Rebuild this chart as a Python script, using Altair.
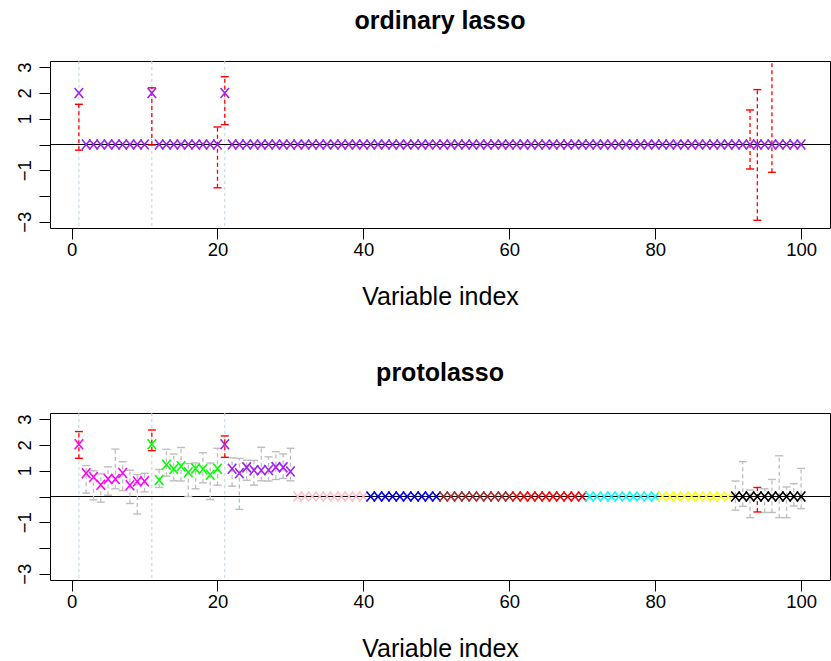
import altair as alt
import pandas as pd

# ---- data -------------------------------------------------------------
index = list(range(1, 101))
true_vars = [1, 11, 21]

lasso_coef = [
    2, 0, 0, 0, 0, 0, 0, 0, 0, 0,
    2, 0, 0, 0, 0, 0, 0, 0, 0, 0,
    2, 0, 0, 0, 0, 0, 0, 0, 0, 0,
    0, 0, 0, 0, 0, 0, 0, 0, 0, 0,
    0, 0, 0, 0, 0, 0, 0, 0, 0, 0,
    0, 0, 0, 0, 0, 0, 0, 0, 0, 0,
    0, 0, 0, 0, 0, 0, 0, 0, 0, 0,
    0, 0, 0, 0, 0, 0, 0, 0, 0, 0,
    0, 0, 0, 0, 0, 0, 0, 0, 0, 0,
    0, 0, 0, 0, 0, 0, 0, 0, 0, 0,
]

proto_coef = [
    2.03, 0.90, 0.76, 0.46, 0.68, 0.68, 0.91, 0.44, 0.58, 0.59,
    2.03, 0.64, 1.23, 1.07, 1.17, 0.94, 1.09, 1.06, 0.84, 1.08,
    2.03, 1.08, 0.90, 1.13, 1.02, 1.02, 1.03, 1.14, 1.13, 0.97,
    0, 0, 0, 0, 0, 0, 0, 0, 0, 0,
    0, 0, 0, 0, 0, 0, 0, 0, 0, 0,
    0, 0, 0, 0, 0, 0, 0, 0, 0, 0,
    0, 0, 0, 0, 0, 0, 0, 0, 0, 0,
    0, 0, 0, 0, 0, 0, 0, 0, 0, 0,
    0, 0, 0, 0, 0, 0, 0, 0, 0, 0,
    0, 0, 0, 0, 0, 0, 0, 0, 0, 0,
]

# one colour per block of ten variables (R colour names)
group_colors = ["#FF00FF", "#00FF00", "#A020F0", "#FFC0CB", "#0000FF",
                "#A52A2A", "#FF0000", "#00FFFF", "#FFFF00", "#000000"]
lasso_color = "#A020F0"

# interval bars for the ordinary lasso (red)
lasso_bar_idx = [1, 11, 20, 21, 93, 94, 96]
lasso_bar_lo = [-0.22, -0.02, -1.68, 0.77, -0.95, -2.94, -1.08]
lasso_bar_hi = [1.56, 2.20, 0.68, 2.63, 1.34, 2.13, 3.80]

# interval bars for the protolasso: prototypes in red, the others in grey
proto_red_idx = [1, 11, 21, 94]
proto_red_lo = [1.48, 1.78, 1.52, -0.60]
proto_red_hi = [2.52, 2.58, 2.35, 0.35]

proto_grey_idx = [2, 3, 4, 5, 6, 7, 8, 9, 10,
                  12, 13, 14, 15, 16, 17, 18, 19, 20,
                  22, 23, 24, 25, 26, 27, 28, 29, 30,
                  91, 92, 93, 95, 96, 97, 98, 99, 100]
proto_grey_lo = [0.13, -0.13, -0.22, 0.05, 0.30, 0.23, -0.27, -0.68, 0.18,
                 0.35, 0.79, 0.61, 0.60, 0.00, 0.30, 0.53, -0.12, 0.44,
                 0.40, -0.50, 0.63, 0.44, 0.61, 0.60, 0.66, 0.70, 0.61,
                 -0.53, -0.38, -0.82, -0.62, -0.62, -0.82, -0.82, -0.37, -0.47]
proto_grey_hi = [1.20, 1.00, 0.88, 1.15, 1.84, 1.35, 1.02, 0.85, 0.90,
                 1.05, 1.83, 1.65, 1.90, 1.28, 1.30, 1.70, 1.30, 1.87,
                 1.50, 1.48, 1.41, 1.40, 1.91, 1.54, 1.74, 1.65, 1.87,
                 0.60, 1.35, 0.25, 0.30, 0.66, 1.58, 0.37, 0.50, 1.09]

# ---- styling ----------------------------------------------------------
FONT = "Liberation Sans"
X_SHAPE = "M-0.85,-1L0.85,1M-0.85,1L0.85,-1"
CAP_SHAPE = "M-1,0L1,0"
PANEL_W, PANEL_H = 780, 167

x_scale = alt.Scale(domain=[-2.96, 103.96], nice=False, zero=False)
y_scale = alt.Scale(domain=[-3.24, 3.24], nice=False, zero=False)

x_axis = alt.Axis(values=[0, 20, 40, 60, 80, 100], title="Variable index",
                  grid=False, domain=False, tickSize=11, tickColor="black",
                  labelPadding=1, labelFontSize=18.5, labelColor="black",
                  titleFontSize=25, titleFontWeight="normal", titleColor="black",
                  titleBaseline="alphabetic", titleY=76, labelFont=FONT, titleFont=FONT)
y_axis = alt.Axis(values=[-3, -2, -1, 0, 1, 2, 3], title=None, grid=False,
                  domain=False, tickSize=11, tickColor="black",
                  labelAngle=-90, labelAlign="center", labelBaseline="bottom",
                  labelPadding=5, labelFontSize=18.5, labelColor="black",
                  labelFont=FONT,
                  labelExpr="datum.value == 0 || datum.value == -2 ? '' : datum.label")


def X(field="x"):
    return alt.X(f"{field}:Q", scale=x_scale, axis=x_axis)


def Y(field="y"):
    return alt.Y(f"{field}:Q", scale=y_scale, axis=y_axis)


def panel(title, coef, colors, bar_sets):
    pts = pd.DataFrame({"x": index, "y": coef, "col": colors})

    vlines = alt.Chart(pd.DataFrame({"x": true_vars})).mark_rule(
        color="#ADD8E6", strokeDash=[3, 3], strokeWidth=1
    ).encode(x=X())

    zero = alt.Chart(pd.DataFrame({"y": [0]})).mark_rule(
        color="black", strokeWidth=1
    ).encode(y=Y())

    layers = [vlines, zero]
    for idx, lo, hi, col in bar_sets:
        bars = pd.DataFrame({"x": idx, "y": lo, "y2": hi})
        caps = pd.DataFrame({"x": idx + idx, "y": lo + hi})
        layers.append(
            alt.Chart(bars).mark_rule(color=col, strokeDash=[4, 3],
                                      strokeWidth=1.3, clip=True)
            .encode(x=X(), y=Y(), y2="y2:Q")
        )
        layers.append(
            alt.Chart(caps).mark_point(shape=CAP_SHAPE, size=64, filled=False,
                                       color=col, strokeWidth=1.4, clip=True,
                                       opacity=1)
            .encode(x=X(), y=Y())
        )

    layers.append(
        alt.Chart(pts).mark_point(shape=X_SHAPE, size=100, filled=False,
                                  strokeWidth=1.6, opacity=1)
        .encode(x=X(), y=Y(), color=alt.Color("col:N", scale=None))
    )

    return alt.layer(*layers).properties(
        width=PANEL_W, height=PANEL_H,
        title=alt.TitleParams(title, anchor="middle", fontSize=25,
                              fontWeight="bold", font=FONT, color="black",
                              baseline="alphabetic", offset=7),
    )


top = panel("ordinary lasso", lasso_coef, [lasso_color] * 100,
            [(lasso_bar_idx, lasso_bar_lo, lasso_bar_hi, "#FF0000")])

proto_colors = [group_colors[(i - 1) // 10] for i in index]
bottom = panel("protolasso", proto_coef, proto_colors,
               [(proto_grey_idx, proto_grey_lo, proto_grey_hi, "#BEBEBE"),
                (proto_red_idx, proto_red_lo, proto_red_hi, "#FF0000")])

chart = alt.vconcat(top, bottom, spacing=185, bounds="flush").properties(
    padding={"left": 14, "top": 8, "right": 0, "bottom": 0},
).configure(
    background="white",
    view=alt.ViewConfig(stroke="black", strokeWidth=1),
)

chart.save("out.html", embed_options={"renderer": "svg", "actions": False})
